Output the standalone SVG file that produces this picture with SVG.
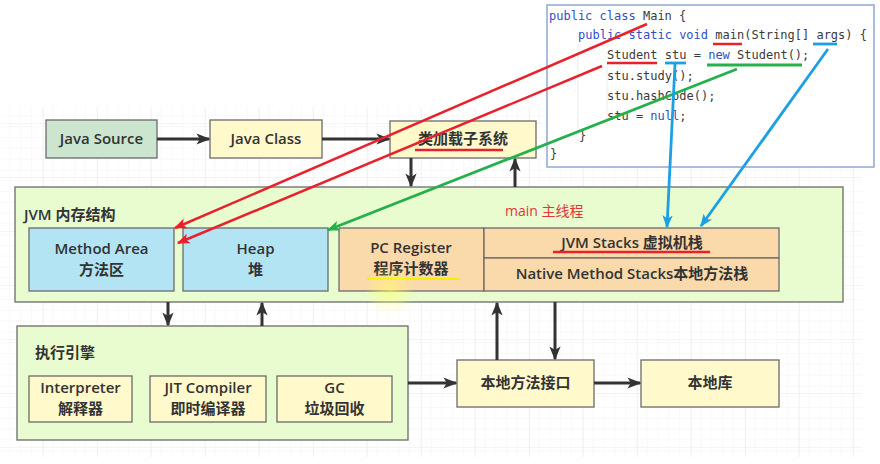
<svg xmlns="http://www.w3.org/2000/svg" width="880" height="464" viewBox="0 0 880 464">
<defs>
  <pattern id="minor" x="43" y="123" width="10.8" height="10.8" patternUnits="userSpaceOnUse">
    <path d="M10.8 0V10.8M0 10.8H10.8" fill="none" stroke="#f4f4f4" stroke-width="1"/>
  </pattern>
  <pattern id="major" x="43" y="123" width="54" height="54" patternUnits="userSpaceOnUse">
    <rect width="54" height="54" fill="url(#minor)"/>
    <path d="M0 0V54M0 0H54" fill="none" stroke="#e9e9e9" stroke-width="1"/>
  </pattern>
  <radialGradient id="glow">
    <stop offset="0" stop-color="#ffff66" stop-opacity="0.55"/>
    <stop offset="1" stop-color="#ffff66" stop-opacity="0"/>
  </radialGradient>
  <marker id="ah" viewBox="0 0 10 10" refX="9" refY="5" markerWidth="14" markerHeight="14" markerUnits="userSpaceOnUse" orient="auto">
    <path d="M0 1L10 5L0 9L2.5 5Z" fill="#333"/>
  </marker>
  <marker id="ahR" viewBox="0 0 10 10" refX="9" refY="5" markerWidth="13" markerHeight="13" markerUnits="userSpaceOnUse" orient="auto">
    <path d="M0 1L10 5L0 9L2.5 5Z" fill="#e8222c"/>
  </marker>
  <marker id="ahG" viewBox="0 0 10 10" refX="9" refY="5" markerWidth="13" markerHeight="13" markerUnits="userSpaceOnUse" orient="auto">
    <path d="M0 1L10 5L0 9L2.5 5Z" fill="#24b04b"/>
  </marker>
  <marker id="ahB" viewBox="0 0 10 10" refX="9" refY="5" markerWidth="13" markerHeight="13" markerUnits="userSpaceOnUse" orient="auto">
    <path d="M0 1L10 5L0 9L2.5 5Z" fill="#1d9fe4"/>
  </marker>
</defs>
<style>
  .box{stroke:#6b6b6b;stroke-width:1.3}
  .t{font-family:"Open Sans","Noto Sans","Noto Sans CJK SC",sans-serif;font-size:15px;font-weight:600;fill:#333;text-anchor:middle}
  .tl{font-family:"Open Sans","Noto Sans","Noto Sans CJK SC",sans-serif;font-size:15px;font-weight:600;fill:#333}
  .code{font-family:"DejaVu Sans Mono","Liberation Mono",monospace;font-size:12px;fill:#3a3a3a}
  .kw{fill:#2f4fc2}
  .conn{stroke:#333;stroke-width:3;fill:none;marker-end:url(#ah)}
  .red{stroke:#e8222c;stroke-width:2.5;fill:none}
  .green{stroke:#24b04b;stroke-width:2.8;fill:none}
  .blue{stroke:#1d9fe4;stroke-width:2.8;fill:none}
</style>
<rect width="880" height="464" fill="#ffffff"/>
<rect x="0" y="107" width="862" height="350" fill="url(#major)"/>

<g id="java-source"><rect class="box" x="46" y="120" width="111" height="38" fill="#cbe5cf"/><text class="t" x="101.5" y="144">Java Source</text></g>
<g id="java-class"><rect class="box" x="210" y="120" width="112" height="38" fill="#fff9cc"/><text class="t" x="266" y="144">Java Class</text></g>
<g id="class-loader"><rect class="box" x="390" y="121" width="146" height="37" fill="#fff9cc"/><text class="t" x="463" y="144">类加载子系统</text><path class="red" d="M415 150H503" stroke-width="1.6"/></g>

<g id="jvm-memory">
  <rect class="box" x="15" y="187" width="828" height="115" fill="#e9fcd0"/>
  <text class="tl" x="24" y="220">JVM 内存结构</text>
  <text x="505" y="216" style="font-family:'Open Sans','Noto Sans','Noto Sans CJK SC',sans-serif;font-size:14px;fill:#e2363a">main 主线程</text>
</g>
<g id="method-area"><rect class="box" x="29" y="228" width="145" height="63" fill="#b2e4f4"/><text class="t" x="101.5" y="254">Method Area</text><text class="t" x="101.5" y="275">方法区</text></g>
<g id="heap"><rect class="box" x="183" y="228" width="145" height="63" fill="#b2e4f4"/><text class="t" x="255.5" y="254">Heap</text><text class="t" x="255.5" y="275">堆</text></g>
<g id="pc-register"><rect class="box" x="339" y="228" width="145" height="63" fill="#fad9ab"/><text class="t" x="411" y="253">PC Register</text><text class="t" x="411" y="274">程序计数器</text><path d="M367 279H460" stroke="#f2f000" stroke-width="2"/><circle cx="390" cy="290" r="26" fill="url(#glow)"/></g>
<g id="jvm-stacks"><rect class="box" x="484" y="228" width="295" height="30" fill="#fad9ab"/><text class="t" x="632" y="248">JVM Stacks 虚拟机栈</text><path class="red" d="M553 252H710" stroke-width="1.6"/></g>
<g id="native-stacks"><rect class="box" x="484" y="258" width="295" height="33" fill="#fad9ab"/><text class="t" x="632" y="279">Native Method Stacks本地方法栈</text></g>

<g id="exec-engine"><rect class="box" x="17" y="326" width="391" height="114" fill="#e9fcd0"/><text class="tl" x="35" y="358">执行引擎</text></g>
<g id="interpreter"><rect class="box" x="29" y="376" width="103" height="46" fill="#fff9cc"/><text class="t" x="80.5" y="393">Interpreter</text><text class="t" x="80.5" y="414">解释器</text></g>
<g id="jit"><rect class="box" x="150" y="376" width="116" height="46" fill="#fff9cc"/><text class="t" x="208" y="393">JIT Compiler</text><text class="t" x="208" y="414">即时编译器</text></g>
<g id="gc"><rect class="box" x="277" y="376" width="115" height="46" fill="#fff9cc"/><text class="t" x="334.5" y="393">GC</text><text class="t" x="334.5" y="414">垃圾回收</text></g>

<g id="native-interface"><rect class="box" x="457" y="360" width="137" height="47" fill="#fff9cc"/><text class="t" x="525.5" y="388">本地方法接口</text></g>
<g id="native-lib"><rect class="box" x="641" y="360" width="138" height="47" fill="#fff9cc"/><text class="t" x="710" y="388">本地库</text></g>

<g id="code">
  <rect x="547" y="5" width="327" height="162" fill="#ffffff" stroke="#8fa9cf" stroke-width="1.5"/>
  <path d="M578 44V130M607 64V126" stroke="#ececec" stroke-width="1"/>
  <text class="code" x="549" y="20"><tspan class="kw">public class</tspan> Main {</text>
  <text class="code" x="578" y="39"><tspan class="kw">public static void</tspan> main(String[] args) {</text>
  <text class="code" x="607" y="59">Student stu = <tspan class="kw">new</tspan> Student();</text>
  <text class="code" x="607" y="80">stu.study();</text>
  <text class="code" x="607" y="100">stu.hashCode();</text>
  <text class="code" x="607" y="120">stu = <tspan class="kw">null</tspan>;</text>
  <text class="code" x="579" y="140">}</text>
  <text class="code" x="550" y="158">}</text>
  <path class="red" d="M713 44H742" stroke-width="2"/>
  <path class="blue" d="M813 44H837" stroke-width="2"/>
  <path class="red" d="M607 63H657" stroke-width="2"/>
  <path class="blue" d="M665 63H686" stroke-width="2"/>
  <path class="green" d="M707 65H802" stroke-width="2"/>
</g>

<g id="connectors">
  <path class="conn" d="M157 139H209"/>
  <path class="conn" d="M322 139H389"/>
  <path class="conn" d="M411 158V186"/>
  <path class="conn" d="M515 187V159"/>
  <path class="conn" d="M168 302V325"/>
  <path class="conn" d="M262 326V303"/>
  <path class="conn" d="M408 383H456"/>
  <path class="conn" d="M497 360V303"/>
  <path class="conn" d="M555 302V359"/>
  <path class="conn" d="M594 383H640"/>
  <path class="red" d="M647 24L175 228" marker-end="url(#ahR)"/>
  <path class="red" d="M602 66L178 243" marker-end="url(#ahR)"/>
  <path class="green" d="M737 69L328 230" marker-end="url(#ahG)"/>
  <path class="blue" d="M675 64L667 227" marker-end="url(#ahB)"/>
  <path class="blue" d="M828 49L701 226" marker-end="url(#ahB)"/>
</g>
</svg>
